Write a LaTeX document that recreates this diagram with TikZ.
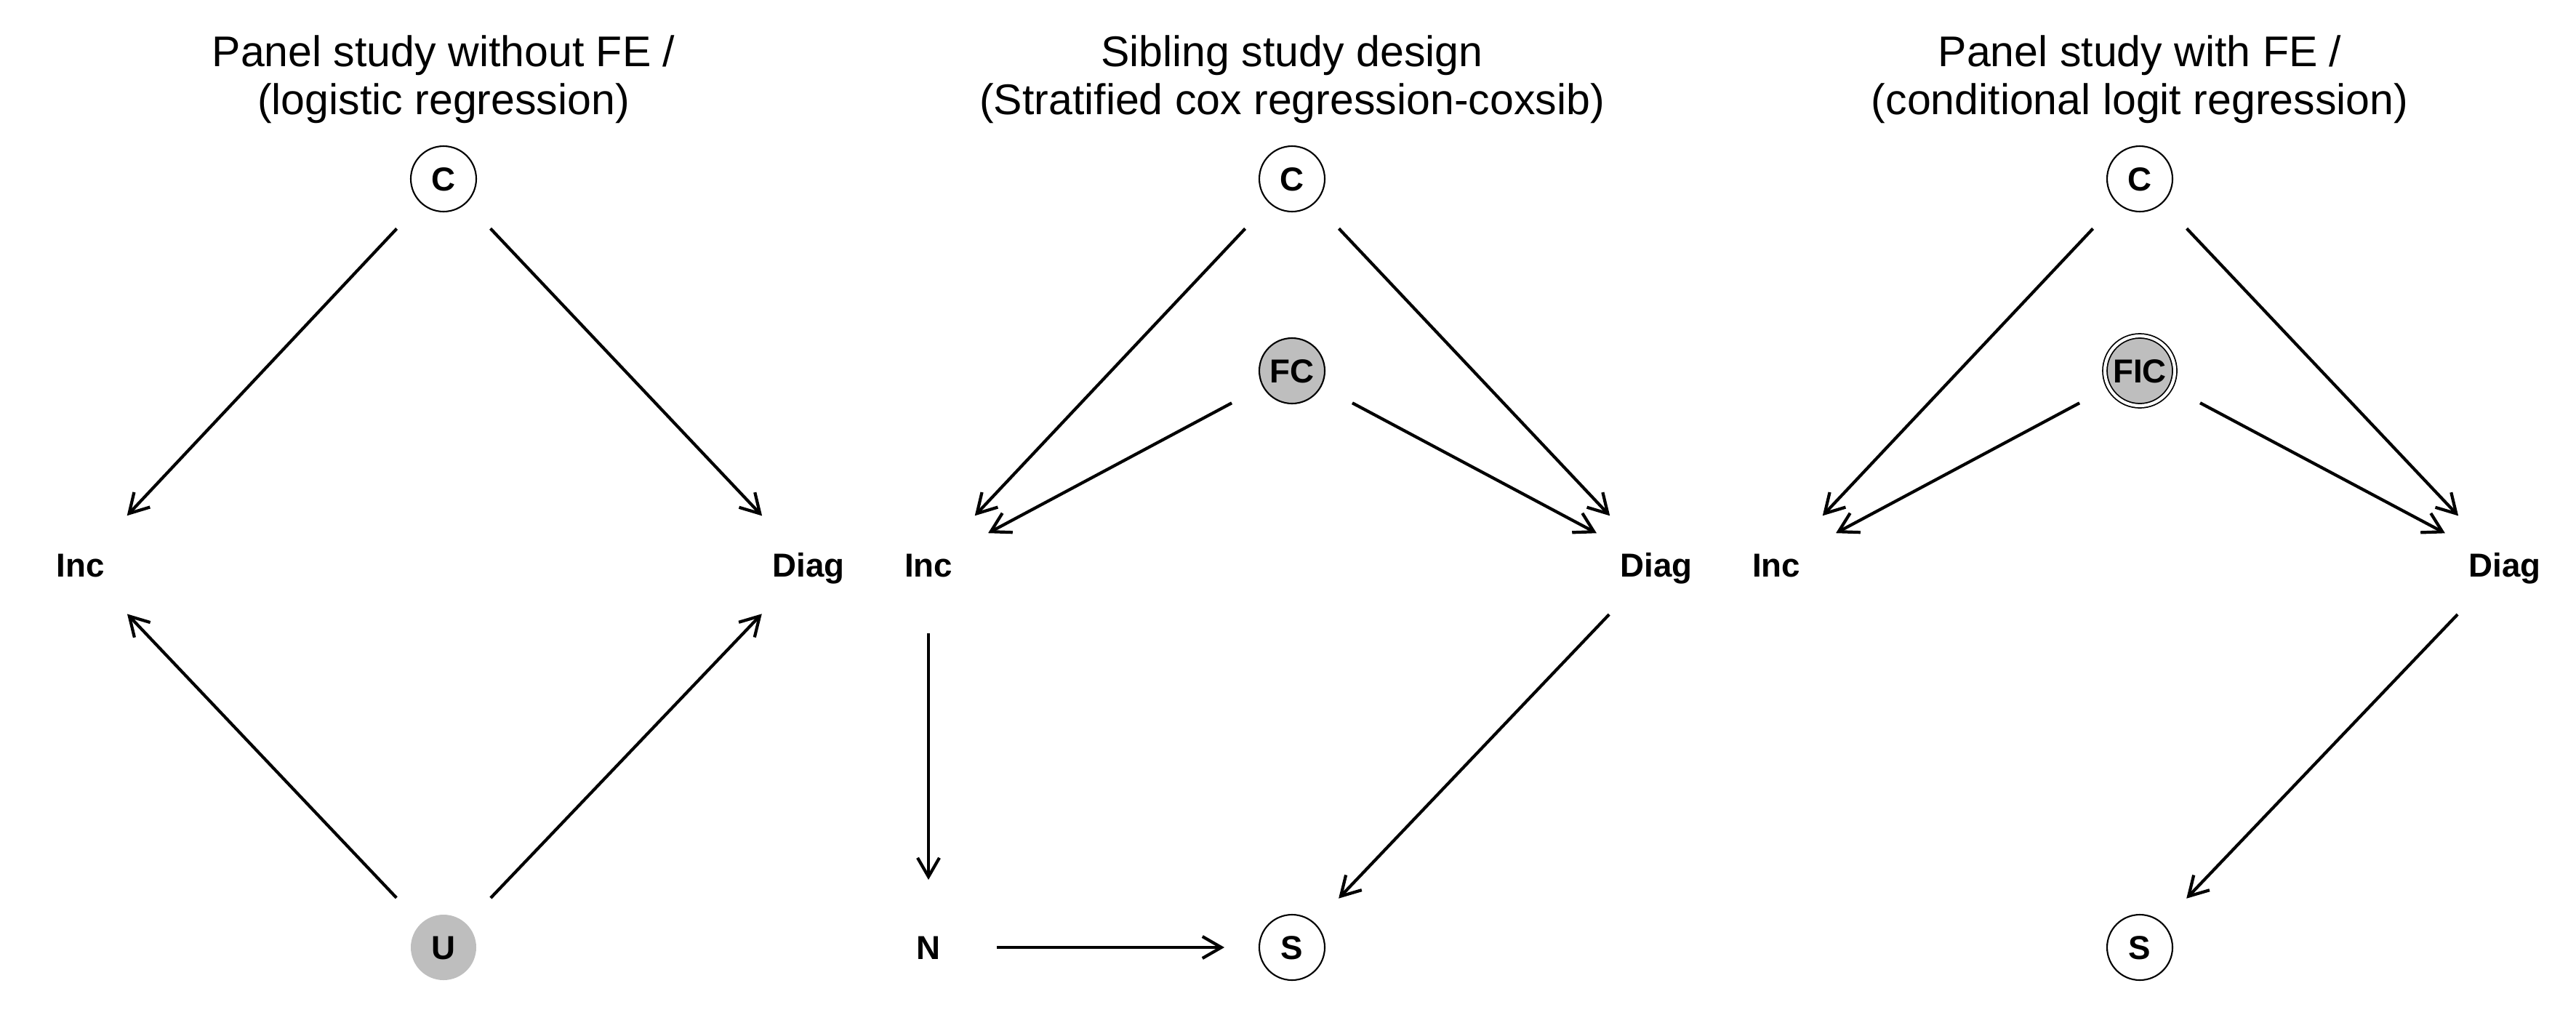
\documentclass[tikz,border=0pt]{standalone}
\usepackage{fontspec}
\setmainfont{Liberation Sans}
\usetikzlibrary{arrows.meta}
\definecolor{shade}{RGB}{190,190,190}

\begin{document}
\begin{tikzpicture}[x=1cm,y=-1cm,
  var/.style={font=\fontsize{13}{15}\selectfont\bfseries, inner sep=0pt, text height=9.4pt, text depth=0pt},
  obs/.style={var, circle, draw, line width=.6pt, minimum size=.9cm},
  latent/.style={var, circle, fill=shade, minimum size=.9cm},
  fixed/.style={latent, draw, line width=.6pt},
  fixedboth/.style={latent, draw, double, double distance=1.2pt, line width=.5pt, minimum size=.96cm},
  paneltitle/.style={font=\fontsize{16.8}{18.5}\selectfont, align=center, anchor=base, inner sep=0pt},
  arr/.style={-{Straight Barb[length=.26cm,width=.3cm]}, line width=1.2pt, shorten <=.94cm, shorten >=.93cm}]
\useasboundingbox (0,0) rectangle (35.43,14.17);

% panel 1
\node[paneltitle] (t1) at (6.10,1.57) {Panel study without FE /\\(logistic regression)};
\node[obs] (C1) at (6.10,2.46) {C};
\node[var] (I1) at (1.11,7.77) {Inc};
\node[var] (D1) at (11.12,7.77) {Diag};
\node[latent] (U1) at (6.10,13.03) {U};
\draw[arr] (C1.center) -- (I1.center);
\draw[arr] (C1.center) -- (D1.center);
\draw[arr] (U1.center) -- (I1.center);
\draw[arr] (U1.center) -- (D1.center);

% panel 2
\node[paneltitle] (t2) at (17.77,1.57) {Sibling study design\\(Stratified cox regression-coxsib)};
\node[obs] (C2) at (17.77,2.46) {C};
\node[fixed] (FC) at (17.77,5.10) {FC};
\node[var] (I2) at (12.77,7.77) {Inc};
\node[var] (D2) at (22.78,7.77) {Diag};
\node[var] (N2) at (12.77,13.03) {N};
\node[obs] (S2) at (17.77,13.03) {S};
\draw[arr] (C2.center) -- (I2.center);
\draw[arr] (C2.center) -- (D2.center);
\draw[arr] (FC.center) -- (I2.center);
\draw[arr] (FC.center) -- (D2.center);
\draw[arr] (I2.center) -- (N2.center);
\draw[arr] (N2.center) -- (S2.center);
\draw[arr] (D2.center) -- (S2.center);

% panel 3
\node[paneltitle] (t3) at (29.43,1.57) {Panel study with FE /\\(conditional logit regression)};
\node[obs] (C3) at (29.43,2.46) {C};
\node[fixedboth] (FIC) at (29.43,5.10) {FIC};
\node[var] (I3) at (24.43,7.77) {Inc};
\node[var] (D3) at (34.45,7.77) {Diag};
\node[obs] (S3) at (29.43,13.03) {S};
\draw[arr] (C3.center) -- (I3.center);
\draw[arr] (C3.center) -- (D3.center);
\draw[arr] (FIC.center) -- (I3.center);
\draw[arr] (FIC.center) -- (D3.center);
\draw[arr] (D3.center) -- (S3.center);
\end{tikzpicture}
\end{document}
